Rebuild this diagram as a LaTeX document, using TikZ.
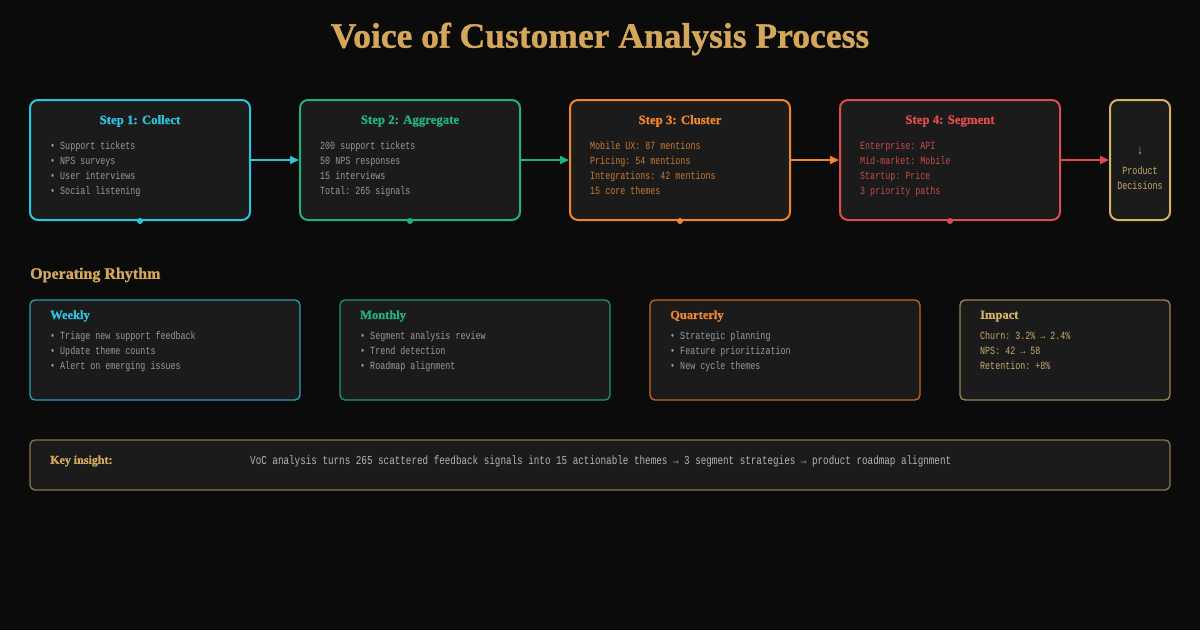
\documentclass[tikz,border=0pt]{standalone}
\usepackage{fontspec}
\setmainfont{Liberation Serif}
\newfontfamily\headfont{Liberation Serif Bold}[FakeBold=1]
\setmonofont{Liberation Mono}[FakeStretch=0.76]
\usepackage{tikz}
\usetikzlibrary{arrows.meta, positioning}
\definecolor{bg}{HTML}{0B0B0B}
\definecolor{panel}{HTML}{1B1B1B}
\definecolor{gold}{HTML}{D4A75A}
\definecolor{collect}{HTML}{2CC3DF}
\definecolor{aggregate}{HTML}{22B07D}
\definecolor{cluster}{HTML}{EF852E}
\definecolor{segment}{HTML}{E04B4B}
\definecolor{decide}{HTML}{D4B262}
\definecolor{bodygrey}{HTML}{9A9A9A}
\definecolor{keygrey}{HTML}{B4B4B4}
\definecolor{clustertext}{HTML}{C97A35}
\definecolor{segmenttext}{HTML}{C44C4C}
\definecolor{decidetext}{HTML}{C9AA6C}
\definecolor{weekly}{HTML}{2A9FB5}
\definecolor{monthly}{HTML}{1E9670}
\definecolor{quarterly}{HTML}{C8652A}
\definecolor{impact}{HTML}{9A8458}
\definecolor{insight}{HTML}{8A7548}

\begin{document}
\begin{tikzpicture}[x=1pt, y=-1pt,
    stepbox/.style={rectangle, rounded corners=8pt, line width=2pt, fill=panel, minimum width=220pt, minimum height=120pt, inner sep=0pt},
    rhythmbox/.style={rectangle, rounded corners=5pt, line width=1.3pt, fill=panel, minimum width=270pt, minimum height=100pt, inner sep=0pt},
    steptitle/.style={inner sep=0pt, font=\headfont\fontsize{12.8}{15}\selectfont},
    rhythmtitle/.style={inner sep=0pt, anchor=west, font=\headfont\fontsize{12.5}{14}\selectfont},
    item/.style={inner sep=0pt, anchor=west, text height=7pt, text depth=2pt, font=\fontsize{11}{13}\ttfamily},
    flow/.style={line width=2pt, -{Triangle[length=9pt, width=8pt]}}
]
    \useasboundingbox[fill=bg] (0,0) rectangle (1200,630);

    % Title
    \node[inner sep=0pt, text=gold, font=\headfont\fontsize{35.5}{40}\selectfont] (title) at (600,39) {Voice of Customer Analysis Process};

    % Pipeline
    \node[stepbox, draw=collect] (s1) at (140,160) {};
    \node[stepbox, draw=aggregate] (s2) at (410,160) {};
    \node[stepbox, draw=cluster] (s3) at (680,160) {};
    \node[stepbox, draw=segment] (s4) at (950,160) {};
    \node[stepbox, draw=decide, minimum width=60pt] (s5) at (1140,160) {};

    \node[steptitle, text=collect] (t1) at (140,121) {Step 1: Collect};
    \node[steptitle, text=aggregate] (t2) at (410,121) {Step 2: Aggregate};
    \node[steptitle, text=cluster] (t3) at (680,121) {Step 3: Cluster};
    \node[steptitle, text=segment] (t4) at (950,121) {Step 4: Segment};

    \node[item, text=bodygrey] (c1) at (50,147) {• Support tickets};
    \node[item, text=bodygrey] (c2) at (50,162) {• NPS surveys};
    \node[item, text=bodygrey] (c3) at (50,177) {• User interviews};
    \node[item, text=bodygrey] (c4) at (50,192) {• Social listening};

    \node[item, text=bodygrey] (a1) at (320,147) {200 support tickets};
    \node[item, text=bodygrey] (a2) at (320,162) {50 NPS responses};
    \node[item, text=bodygrey] (a3) at (320,177) {15 interviews};
    \node[item, text=bodygrey] (a4) at (320,192) {Total: 265 signals};

    \node[item, text=clustertext] (k1) at (590,147) {Mobile UX: 87 mentions};
    \node[item, text=clustertext] (k2) at (590,162) {Pricing: 54 mentions};
    \node[item, text=clustertext] (k3) at (590,177) {Integrations: 42 mentions};
    \node[item, text=clustertext] (k4) at (590,192) {15 core themes};

    \node[item, text=segmenttext] (g1) at (860,147) {Enterprise: API};
    \node[item, text=segmenttext] (g2) at (860,162) {Mid-market: Mobile};
    \node[item, text=segmenttext] (g3) at (860,177) {Startup: Price};
    \node[item, text=segmenttext] (g4) at (860,192) {3 priority paths};

    \node[item, anchor=center, text=decidetext, font=\fontsize{14}{16}\ttfamily] (d0) at (1140,152) {↓};
    \node[item, anchor=center, text=decidetext] (d1) at (1140,172) {Product};
    \node[item, anchor=center, text=decidetext] (d2) at (1140,187) {Decisions};

    % Connections
    \draw[flow, collect] (s1) -- (s2);
    \draw[flow, aggregate] (s2) -- (s3);
    \draw[flow, cluster] (s3) -- (s4);
    \draw[flow, segment] (s4) -- (s5);

    \fill[collect] (s1.south) circle[radius=3pt];
    \fill[aggregate] (s2.south) circle[radius=3pt];
    \fill[cluster] (s3.south) circle[radius=3pt];
    \fill[segment] (s4.south) circle[radius=3pt];

    % Operating rhythm
    \node[inner sep=0pt, anchor=west, text=gold, font=\headfont\fontsize{16}{19}\selectfont] (rhythm) at (30,275) {Operating Rhythm};

    \node[rhythmbox, draw=weekly] (r1) at (165,350) {};
    \node[rhythmbox, draw=monthly] (r2) at (475,350) {};
    \node[rhythmbox, draw=quarterly] (r3) at (785,350) {};
    \node[rhythmbox, draw=impact, minimum width=210pt] (r4) at (1065,350) {};

    \node[rhythmtitle, text=collect] (w0) at (50,316) {Weekly};
    \node[item, text=bodygrey] (w1) at (50,337) {• Triage new support feedback};
    \node[item, text=bodygrey] (w2) at (50,352) {• Update theme counts};
    \node[item, text=bodygrey] (w3) at (50,367) {• Alert on emerging issues};

    \node[rhythmtitle, text=aggregate] (m0) at (360,316) {Monthly};
    \node[item, text=bodygrey] (m1) at (360,337) {• Segment analysis review};
    \node[item, text=bodygrey] (m2) at (360,352) {• Trend detection};
    \node[item, text=bodygrey] (m3) at (360,367) {• Roadmap alignment};

    \node[rhythmtitle, text=cluster] (q0) at (670,316) {Quarterly};
    \node[item, text=bodygrey] (q1) at (670,337) {• Strategic planning};
    \node[item, text=bodygrey] (q2) at (670,352) {• Feature prioritization};
    \node[item, text=bodygrey] (q3) at (670,367) {• New cycle themes};

    \node[rhythmtitle, text=decide] (i0) at (980,316) {Impact};
    \node[item, text=decidetext] (i1) at (980,337) {Churn: 3.2\% → 2.4\%};
    \node[item, text=decidetext] (i2) at (980,352) {NPS: 42 → 58};
    \node[item, text=decidetext] (i3) at (980,367) {Retention: +8\%};

    % Key insight
    \node[rectangle, rounded corners=5pt, line width=1.3pt, draw=insight, fill=panel, minimum width=1140pt, minimum height=50pt, inner sep=0pt] (key) at (600,465) {};
    \node[rhythmtitle, text=gold, font=\headfont\fontsize{12}{14}\selectfont] (keylabel) at (50,461) {Key insight:};
    \node[item, text=keygrey, font=\fontsize{12.2}{14}\ttfamily] (keytext) at (250,462) {VoC analysis turns 265 scattered feedback signals into 15 actionable themes → 3 segment strategies → product roadmap alignment};
\end{tikzpicture}
\end{document}
